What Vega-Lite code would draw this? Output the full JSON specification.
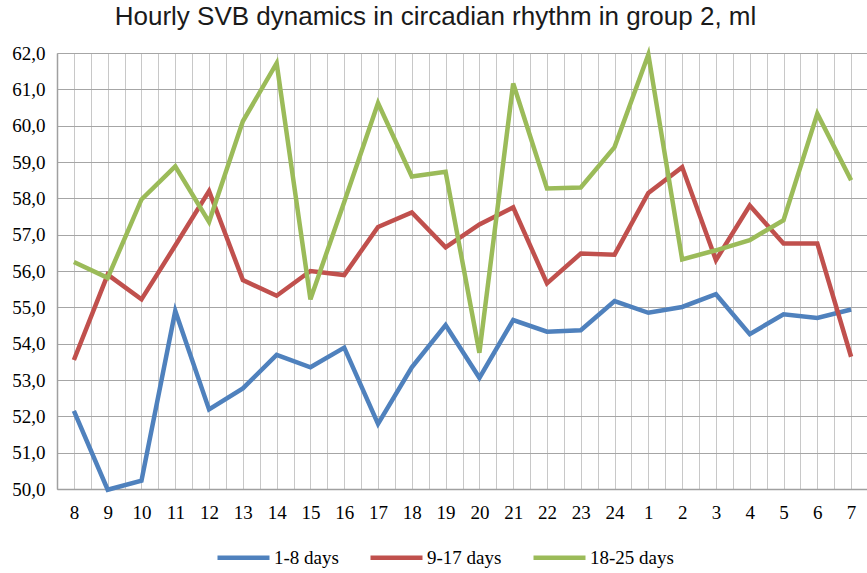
{
  "$schema": "https://vega.github.io/schema/vega-lite/v6.json",
  "width": 811,
  "height": 436,
  "autosize": "none",
  "padding": {"left": 57, "top": 53, "right": 0, "bottom": 84},
  "background": "white",
  "title": {
    "text": "Hourly SVB dynamics in circadian rhythm in group 2, ml",
    "font": "Liberation Sans",
    "fontSize": 26,
    "fontWeight": "normal",
    "color": "#1a1a1a",
    "anchor": "middle",
    "offset": 14,
    "dx": -27
  },
  "data": {
    "values": [
      {"i": 0, "hour": "8", "series": "1-8 days", "value": 52.15},
      {"i": 1, "hour": "9", "series": "1-8 days", "value": 49.98},
      {"i": 2, "hour": "10", "series": "1-8 days", "value": 50.23},
      {"i": 3, "hour": "11", "series": "1-8 days", "value": 54.9},
      {"i": 4, "hour": "12", "series": "1-8 days", "value": 52.19},
      {"i": 5, "hour": "13", "series": "1-8 days", "value": 52.77},
      {"i": 6, "hour": "14", "series": "1-8 days", "value": 53.69},
      {"i": 7, "hour": "15", "series": "1-8 days", "value": 53.35},
      {"i": 8, "hour": "16", "series": "1-8 days", "value": 53.89},
      {"i": 9, "hour": "17", "series": "1-8 days", "value": 51.79},
      {"i": 10, "hour": "18", "series": "1-8 days", "value": 53.35},
      {"i": 11, "hour": "19", "series": "1-8 days", "value": 54.51},
      {"i": 12, "hour": "20", "series": "1-8 days", "value": 53.06},
      {"i": 13, "hour": "21", "series": "1-8 days", "value": 54.65},
      {"i": 14, "hour": "22", "series": "1-8 days", "value": 54.33},
      {"i": 15, "hour": "23", "series": "1-8 days", "value": 54.37},
      {"i": 16, "hour": "24", "series": "1-8 days", "value": 55.17},
      {"i": 17, "hour": "1", "series": "1-8 days", "value": 54.85},
      {"i": 18, "hour": "2", "series": "1-8 days", "value": 55.01},
      {"i": 19, "hour": "3", "series": "1-8 days", "value": 55.36},
      {"i": 20, "hour": "4", "series": "1-8 days", "value": 54.26},
      {"i": 21, "hour": "5", "series": "1-8 days", "value": 54.81},
      {"i": 22, "hour": "6", "series": "1-8 days", "value": 54.71},
      {"i": 23, "hour": "7", "series": "1-8 days", "value": 54.94},
      {"i": 0, "hour": "8", "series": "9-17 days", "value": 53.55},
      {"i": 1, "hour": "9", "series": "9-17 days", "value": 55.9},
      {"i": 2, "hour": "10", "series": "9-17 days", "value": 55.22},
      {"i": 3, "hour": "11", "series": "9-17 days", "value": 56.7},
      {"i": 4, "hour": "12", "series": "9-17 days", "value": 58.2},
      {"i": 5, "hour": "13", "series": "9-17 days", "value": 55.75},
      {"i": 6, "hour": "14", "series": "9-17 days", "value": 55.32},
      {"i": 7, "hour": "15", "series": "9-17 days", "value": 56.0},
      {"i": 8, "hour": "16", "series": "9-17 days", "value": 55.89},
      {"i": 9, "hour": "17", "series": "9-17 days", "value": 57.21},
      {"i": 10, "hour": "18", "series": "9-17 days", "value": 57.61},
      {"i": 11, "hour": "19", "series": "9-17 days", "value": 56.65},
      {"i": 12, "hour": "20", "series": "9-17 days", "value": 57.28},
      {"i": 13, "hour": "21", "series": "9-17 days", "value": 57.75},
      {"i": 14, "hour": "22", "series": "9-17 days", "value": 55.66},
      {"i": 15, "hour": "23", "series": "9-17 days", "value": 56.48},
      {"i": 16, "hour": "24", "series": "9-17 days", "value": 56.45},
      {"i": 17, "hour": "1", "series": "9-17 days", "value": 58.15},
      {"i": 18, "hour": "2", "series": "9-17 days", "value": 58.86},
      {"i": 19, "hour": "3", "series": "9-17 days", "value": 56.3},
      {"i": 20, "hour": "4", "series": "9-17 days", "value": 57.8},
      {"i": 21, "hour": "5", "series": "9-17 days", "value": 56.76},
      {"i": 22, "hour": "6", "series": "9-17 days", "value": 56.76},
      {"i": 23, "hour": "7", "series": "9-17 days", "value": 53.64},
      {"i": 0, "hour": "8", "series": "18-25 days", "value": 56.25},
      {"i": 1, "hour": "9", "series": "18-25 days", "value": 55.81},
      {"i": 2, "hour": "10", "series": "18-25 days", "value": 57.97},
      {"i": 3, "hour": "11", "series": "18-25 days", "value": 58.88},
      {"i": 4, "hour": "12", "series": "18-25 days", "value": 57.35},
      {"i": 5, "hour": "13", "series": "18-25 days", "value": 60.12},
      {"i": 6, "hour": "14", "series": "18-25 days", "value": 61.72},
      {"i": 7, "hour": "15", "series": "18-25 days", "value": 55.22},
      {"i": 8, "hour": "16", "series": "18-25 days", "value": 57.9},
      {"i": 9, "hour": "17", "series": "18-25 days", "value": 60.62},
      {"i": 10, "hour": "18", "series": "18-25 days", "value": 58.6},
      {"i": 11, "hour": "19", "series": "18-25 days", "value": 58.73},
      {"i": 12, "hour": "20", "series": "18-25 days", "value": 53.75},
      {"i": 13, "hour": "21", "series": "18-25 days", "value": 61.16},
      {"i": 14, "hour": "22", "series": "18-25 days", "value": 58.27},
      {"i": 15, "hour": "23", "series": "18-25 days", "value": 58.3},
      {"i": 16, "hour": "24", "series": "18-25 days", "value": 59.41},
      {"i": 17, "hour": "1", "series": "18-25 days", "value": 61.96},
      {"i": 18, "hour": "2", "series": "18-25 days", "value": 56.32},
      {"i": 19, "hour": "3", "series": "18-25 days", "value": 56.57},
      {"i": 20, "hour": "4", "series": "18-25 days", "value": 56.85},
      {"i": 21, "hour": "5", "series": "18-25 days", "value": 57.4},
      {"i": 22, "hour": "6", "series": "18-25 days", "value": 60.33},
      {"i": 23, "hour": "7", "series": "18-25 days", "value": 58.5}
    ]
  },
  "mark": {"type": "line", "strokeWidth": 4.5, "clip": false},
  "encoding": {
    "x": {
      "field": "i",
      "type": "quantitative",
      "scale": {"domain": [-0.5, 23.5], "nice": false, "zero": false},
      "axis": {
        "title": null,
        "values": [-0.5, 0, 0.5, 1, 1.5, 2, 2.5, 3, 3.5, 4, 4.5, 5, 5.5, 6, 6.5, 7, 7.5, 8, 8.5, 9, 9.5, 10, 10.5, 11, 11.5, 12, 12.5, 13, 13.5, 14, 14.5, 15, 15.5, 16, 16.5, 17, 17.5, 18, 18.5, 19, 19.5, 20, 20.5, 21, 21.5, 22, 22.5, 23, 23.5],
        "labelExpr": "datum.value % 1 === 0 ? ['8','9','10','11','12','13','14','15','16','17','18','19','20','21','22','23','24','1','2','3','4','5','6','7'][datum.value] : ''",
        "grid": true,
        "gridColor": "#c8c8c8",
        "gridWidth": 1,
        "ticks": false,
        "domain": true,
        "domainColor": "#a0a0a0",
        "domainWidth": 1.5,
        "labelFont": "Liberation Serif",
        "labelFontSize": 19,
        "labelColor": "#000000",
        "labelPadding": 14,
        "labelOverlap": false,
        "labelBound": false,
        "labelFlush": false
      }
    },
    "y": {
      "field": "value",
      "type": "quantitative",
      "scale": {"domain": [50, 62], "nice": false, "zero": false},
      "axis": {
        "title": null,
        "values": [50, 51, 52, 53, 54, 55, 56, 57, 58, 59, 60, 61, 62],
        "labelExpr": "replace(format(datum.value, '.1f'), '.', ',')",
        "grid": true,
        "gridColor": "#a6a6a6",
        "gridWidth": 1.2,
        "ticks": false,
        "domain": true,
        "domainColor": "#a0a0a0",
        "domainWidth": 1.5,
        "labelFont": "Liberation Serif",
        "labelFontSize": 19,
        "labelColor": "#000000",
        "labelPadding": 12,
        "labelOverlap": false
      }
    },
    "color": {
      "field": "series",
      "type": "nominal",
      "scale": {
        "domain": ["1-8 days", "9-17 days", "18-25 days"],
        "range": ["#4F81BD", "#C0504D", "#9BBB59"]
      },
      "legend": {
        "title": null,
        "orient": "none",
        "direction": "horizontal",
        "legendX": 158,
        "legendY": 476,
        "symbolType": "stroke",
        "symbolSize": 2704,
        "symbolStrokeWidth": 4.5,
        "labelFont": "Liberation Serif",
        "labelFontSize": 19,
        "labelColor": "#000000",
        "labelOffset": 2,
        "columnPadding": 22
      }
    }
  }
}
